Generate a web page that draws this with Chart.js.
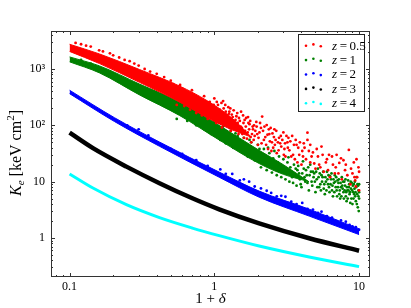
<!DOCTYPE html>
<html>
<head>
<meta charset="utf-8">
<script src="https://cdn.jsdelivr.net/npm/chart.js@4.4.1/dist/chart.umd.min.js"></script>
<style>
  html, body { margin: 0; padding: 0; background: #fff; }
</style>
</head>
<body>
<canvas id="myChart" width="411" height="308"></canvas>
<script>
var xTicks = [0.1, 1, 10];
var yTicks = [1, 10, 100, 1000];
var yTickLabels = { 1: '1', 10: '10', 100: '10\u00b2', 1000: '10\u00b3' };
var seriesNames = ['0.5', '1', '2', '3', '4'];
var seriesColors = ['#ff0000', '#008000', '#0000ff', '#000000', '#00ffff'];

// dense cores (lower / upper edge of the point cloud)
var redBandX = [0.1, 0.161, 0.304, 0.574, 0.9, 1.3, 1.8];
var redBandLow = [2050, 1250, 580, 260, 135, 85, 62];
var redBandHigh = [2750, 1850, 980, 500, 270, 140, 62];

var greenBandX = [0.1, 0.161, 0.304, 0.574, 1.08, 2.04, 3.0, 4.5];
var greenBandLow = [1340, 853, 347, 150, 55, 21, 13.5, 10];
var greenBandHigh = [1640, 1135, 540, 260, 100, 36, 20, 10];

var blueBandX = [0.1, 0.204, 0.418, 1.08, 2.04, 4.52, 10];
var blueBandLow = [365, 117, 42.5, 12, 5.3, 2.45, 1.15];
var blueBandHigh = [420, 137, 50.5, 14.8, 6.8, 3.25, 1.45];

var blackX = [0.1, 0.145, 0.247, 0.418, 0.705, 1.08, 2.04, 4.52, 10];
var blackY = [74, 39.3, 18.5, 9.4, 5.07, 3.23, 1.82, 0.99, 0.594];

var cyanX = [0.1, 0.145, 0.247, 0.418, 0.705, 1.08, 2.04, 4.52, 10];
var cyanY = [13.7, 7.7, 3.9, 2.3, 1.5, 1.1, 0.72, 0.46, 0.31];

// scattered points outside the cores
var redPoints = [
  [0.11,2900],[0.12,2750],[0.13,2600],[0.14,2500],[0.16,2150],[0.17,2050],[0.19,1900],[0.2,1750],
  [0.22,1600],[0.24,1450],[0.26,1380],[0.28,1250],[0.3,1150],[0.33,1000],[0.36,900],[0.4,820],
  [0.437,620],[0.45,720],[0.5,620],[0.52,540],[0.55,230],[0.58,520],[0.6,450],[0.62,220],
  [0.65,380],[0.68,190],[0.7,420],[0.72,330],[0.75,165],[0.78,300],[0.8,250],[0.82,150],
  [0.85,330],[0.88,220],[0.9,130],[0.93,260],[0.96,180],[1.0,300],[1.03,110],[1.05,140],
  [1.06,230],[1.1,160],[1.12,250],[1.13,92],[1.16,200],[1.18,110],[1.2,175],[1.23,120],
  [1.25,210],[1.27,175],[1.3,80],[1.32,155],[1.34,140],[1.38,100],[1.4,125],[1.44,165],
  [1.47,70],[1.5,120],[1.52,95],[1.55,90],[1.58,150],[1.6,60],[1.63,80],[1.66,135],
  [1.7,75],[1.72,110],[1.75,105],[1.78,62],[1.8,50],[1.85,85],[1.88,100],[1.9,65],
  [1.95,115],[1.98,70],[2.0,45],[2.05,75],[2.1,90],[2.14,143],[2.2,55],[2.25,62],
  [2.3,101],[2.35,38],[2.4,70],[2.45,90],[2.5,50],[2.55,40],[2.6,85],[2.65,55],
  [2.7,32],[2.8,60],[2.85,48],[2.9,42],[3.0,75],[3.05,38],[3.1,28],[3.2,50],
  [3.25,60],[3.3,36],[3.45,65],[3.5,30],[3.6,25],[3.7,45],[3.8,40],[3.86,30],
  [4.0,20],[4.1,28],[4.2,40],[4.4,74],[4.4,55],[4.5,35],[4.6,22],[4.8,33],
  [5.0,17],[5.2,28],[5.3,20],[5.5,42],[5.7,15],[6.0,25],[6.2,30],[6.3,12],
  [6.6,20],[6.8,14],[7.0,30],[7.3,21.5],[7.6,11],[7.8,24],[8.0,16],[8.3,13],
  [8.5,36.6],[8.7,9],[9.0,14],[9.2,22],[9.4,10.5],[9.5,8.2],[9.7,12],[9.9,18],[10,7],
  [0.92,200],[0.97,150],[0.99,230],[1.01,175],[1.04,260],[1.08,120],[1.09,190],[1.14,145],
  [1.15,270],[1.19,230],[1.21,140],[1.24,100],[1.26,160],[1.29,200],[1.31,120],[1.36,185],
  [1.37,90],[1.42,145],[1.45,110],[1.48,135],[1.53,175],[1.56,70],[1.59,110],[1.62,125],
  [1.65,95],[1.68,58],[1.71,140],[1.74,85],[1.77,120],[1.82,70],[1.84,95],[1.87,55],
  [1.92,80],[1.96,95],[2.02,60],[2.07,110],[2.12,48],[2.17,80],[2.22,95],[2.28,45],
  [2.33,68],[2.38,85],[2.42,52],[2.48,35],[2.52,72],[2.58,62],[2.62,45],[2.68,80],
  [2.75,50],[2.78,36],[2.88,65],[2.95,55],[3.02,30],[3.08,48],[3.15,65],[3.22,40],
  [3.35,52],[3.4,28],[3.55,45],[3.65,55],[3.75,22],[3.9,50],[4.05,35],[4.15,48],
  [4.3,25],[4.6,45],[4.7,28],[4.9,21],[5.1,38],[5.4,18],[5.6,30],[5.9,22],
  [6.1,16],[6.5,28],[6.9,18],[7.2,14],[7.5,26],[8.1,20],[8.8,17],[9.3,12],[9.6,25],[10,15]
];
var greenPoints = [
  [0.12,1450],[0.14,1250],[0.18,900],[0.22,700],[0.26,560],[0.3,480],[0.35,420],[0.4,340],
  [0.45,300],[0.5,260],[0.55,130],[0.6,240],[0.65,120],[0.7,190],[0.75,100],[0.8,160],
  [0.85,85],[0.9,130],[0.95,70],[1.0,120],[1.1,55],[1.15,95],[1.2,48],[1.3,80],
  [1.35,40],[1.4,72],[1.5,35],[1.6,60],[1.7,28],[1.8,50],[1.9,24],[2.0,45],
  [2.1,18],[2.2,38],[2.3,16],[2.4,32],[2.5,14.5],[2.6,35],[2.7,13],[2.8,28],
  [2.9,12],[3.0,25],[3.1,11],[3.2,22],[3.3,10],[3.35,18],[3.4,15],[3.5,9.5],
  [3.55,20],[3.6,13],[3.7,8.5],[3.75,16],[3.8,19],[3.9,11],[4.0,8],[4.05,14],
  [4.1,23],[4.2,12],[4.3,16],[4.4,9.5],[4.5,7],[4.55,13],[4.6,20],[4.7,10],
  [4.8,15],[4.9,14],[5.0,6.5],[5.1,11],[5.2,17],[5.3,8],[5.4,9],[5.5,13],
  [5.6,12],[5.7,7.5],[5.8,6],[5.9,10],[6.0,15],[6.1,9],[6.2,8],[6.3,12.5],
  [6.4,11],[6.5,7],[6.6,5.5],[6.7,9.5],[6.8,13],[6.9,8],[7.0,7],[7.1,10.5],
  [7.2,9.5],[7.3,6],[7.4,5],[7.5,8],[7.6,12],[7.7,7.5],[7.8,6.5],[7.9,10],
  [8.0,8.5],[8.1,5.5],[8.2,4.5],[8.3,7],[8.4,10.5],[8.5,8],[8.6,6],[8.7,4.2],
  [8.8,7.5],[8.9,9.5],[9.0,4],[9.1,6.5],[9.2,9],[9.3,7.5],[9.4,5.5],[9.5,4.5],
  [9.6,12],[9.7,6],[9.8,3.5],[9.85,8.5],[9.9,7],[9.95,3],[10,5],
  [1.05,80],[1.12,65],[1.18,110],[1.25,60],[1.28,90],[1.38,55],[1.45,65],[1.55,48],
  [1.65,40],[1.75,55],[1.85,35],[1.95,30],[2.05,38],[2.15,28],[2.25,24],[2.35,40],
  [2.45,20],[2.55,26],[2.65,18],[2.75,22],[2.85,17],[2.95,19],[3.05,16],[3.15,14],
  [3.25,27],[3.45,12],[3.65,17],[3.85,14],[3.95,9],[4.15,17],[4.25,10],[4.35,13],
  [4.45,18],[4.65,15],[4.75,8.5],[4.85,12],[4.95,10],[5.05,15],[5.15,8],[5.25,12],
  [5.35,14],[5.45,7],[5.55,10],[5.65,15],[5.75,9],[5.85,12],[5.95,7],[6.05,11],
  [6.15,13],[6.25,6.5],[6.35,9],[6.45,14],[6.55,8.5],[6.65,11],[6.75,6.5],[6.85,10],
  [6.95,12],[7.05,5.5],[7.15,8],[7.25,11],[7.35,7],[7.45,9.5],[7.55,5.5],[7.65,8.5],
  [7.75,10],[7.85,5],[7.95,7],[8.05,11],[8.15,6.5],[8.25,8],[8.35,5],[8.45,7],
  [8.55,9],[8.65,6.5],[8.75,10],[8.85,5],[8.95,7],[9.05,8.5],[9.15,5],[9.25,6],
  [9.35,10],[9.45,6.5],[9.55,8],[9.65,4],[9.75,9],[9.9,5.5],[10,6.5],[10,9]
];
var bluePoints = [
  [0.25,100],[0.3,85],[0.35,66],[0.5,38],[0.6,31],[0.75,24],[0.9,19],[1.1,16.5],
  [1.2,13.8],[1.33,13.7],[1.5,10.5],[1.6,11],[1.74,10],[1.9,8.2],[2.1,7.6],[2.3,6.9],
  [2.47,6.3],[2.7,5.5],[2.9,5.6],[3.1,5.4],[3.4,4.4],[3.7,4.0],[4.05,4.2],[4.4,3.3],
  [4.8,3.2],[5.2,2.8],[5.5,2.93],[6.0,2.45],[6.5,2.3],[7.0,2.0],[7.5,2.05],[8.1,1.95],
  [8.6,1.7],[9.0,1.6],[9.5,1.55],[10,1.4]
];

function pts(xs, ys) {
  return xs.map(function (x, i) { return { x: x, y: ys[i] }; });
}
function pairs(list) {
  return list.map(function (p) { return { x: p[0], y: p[1] }; });
}
function cloud(list, color) {
  return { data: pairs(list), backgroundColor: color, borderWidth: 0, pointRadius: 1.4 };
}
function edge(xs, ys, color, fill) {
  return {
    data: pts(xs, ys), showLine: true, borderColor: color, backgroundColor: color,
    borderWidth: 1, pointRadius: 0, fill: fill, cubicInterpolationMode: 'monotone'
  };
}
function curve(xs, ys, color, w) {
  return {
    data: pts(xs, ys), showLine: true, borderColor: color, borderWidth: w,
    pointRadius: 0, fill: false, cubicInterpolationMode: 'monotone'
  };
}

var serif = "'Liberation Serif', 'DejaVu Serif', serif";

function richWidth(ctx, parts) {
  var w = 0;
  parts.forEach(function (p) { ctx.font = p.f; w += ctx.measureText(p.t).width; });
  return w;
}
function drawRich(ctx, parts, x, y) {
  parts.forEach(function (p) {
    ctx.font = p.f;
    ctx.fillText(p.t, x, y + (p.dy || 0));
    x += ctx.measureText(p.t).width;
  });
}

var decorations = {
  id: 'decorations',
  afterDraw: function (chart) {
    var ctx = chart.ctx, a = chart.chartArea;
    var xs = chart.scales.x, ys = chart.scales.y;
    ctx.save();
    ctx.strokeStyle = '#333';
    ctx.lineWidth = 1;
    function marks(scale, horiz) {
      var lo = Math.floor(Math.log10(scale.min)), hi = Math.ceil(Math.log10(scale.max));
      ctx.beginPath();
      for (var e = lo; e <= hi; e++) {
        for (var m = 1; m < 10; m++) {
          var v = m * Math.pow(10, e);
          if (v < scale.min || v > scale.max) continue;
          var len = m === 1 ? 4 : 2;
          var p = Math.round(scale.getPixelForValue(v)) + 0.5;
          if (horiz) {
            ctx.moveTo(p, a.bottom); ctx.lineTo(p, a.bottom - len);
            ctx.moveTo(p, a.top); ctx.lineTo(p, a.top + len);
          } else {
            ctx.moveTo(a.left, p); ctx.lineTo(a.left + len, p);
            ctx.moveTo(a.right, p); ctx.lineTo(a.right - len, p);
          }
        }
      }
      ctx.stroke();
    }
    marks(xs, true);
    marks(ys, false);
    ctx.strokeRect(a.left + 0.5, a.top + 0.5, a.right - a.left - 1, a.bottom - a.top - 1);

    // axis titles
    ctx.fillStyle = '#000';
    ctx.textBaseline = 'alphabetic';
    var xt = [
      { t: '1 + ', f: '15px ' + serif },
      { t: '\u03b4', f: 'italic 15px ' + serif }
    ];
    var w = richWidth(ctx, xt);
    drawRich(ctx, xt, (a.left + a.right) / 2 - w / 2, 303);

    var yt = [
      { t: 'K', f: 'italic 16px ' + serif },
      { t: 'e', f: 'italic 11px ' + serif, dy: 3 },
      { t: ' [keV cm', f: '16px ' + serif },
      { t: '2', f: '11px ' + serif, dy: -7 },
      { t: ']', f: '16px ' + serif }
    ];
    w = richWidth(ctx, yt);
    ctx.save();
    ctx.translate(21, 153);
    ctx.rotate(-Math.PI / 2);
    drawRich(ctx, yt, -w / 2, 0);
    ctx.restore();

    // legend
    var bx = a.right - 72, by = a.top + 3, bw = 66, bh = 77;
    ctx.fillStyle = '#fff';
    ctx.fillRect(bx, by, bw, bh);
    ctx.strokeStyle = '#222';
    ctx.strokeRect(bx + 0.5, by + 0.5, bw, bh);
    var dotDy = [0.7, -0.6, 1.3];
    seriesNames.forEach(function (name, i) {
      var cy = by + 11 + i * 14.4;
      ctx.fillStyle = seriesColors[i];
      for (var k = 0; k < 3; k++) {
        ctx.beginPath();
        ctx.arc(bx + 8 + k * 7.4, cy + dotDy[k], 1.3, 0, Math.PI * 2);
        ctx.fill();
      }
      ctx.fillStyle = '#000';
      drawRich(ctx, [
        { t: 'z', f: 'italic 13px ' + serif },
        { t: '\u2009=\u2009' + name, f: '13px ' + serif }
      ], bx + 34, cy + 4.5);
    });
    ctx.restore();
  }
};

var ctx = document.getElementById('myChart').getContext('2d');
var myChart = new Chart(ctx, {
  type: 'scatter',
  data: {
    datasets: [
      cloud(redPoints, seriesColors[0]),
      edge(redBandX, redBandHigh, seriesColors[0], '+1'),
      edge(redBandX, redBandLow, seriesColors[0], false),
      cloud(greenPoints, seriesColors[1]),
      edge(greenBandX, greenBandHigh, seriesColors[1], '+1'),
      edge(greenBandX, greenBandLow, seriesColors[1], false),
      cloud(bluePoints, seriesColors[2]),
      edge(blueBandX, blueBandHigh, seriesColors[2], '+1'),
      edge(blueBandX, blueBandLow, seriesColors[2], false),
      curve(blackX, blackY, seriesColors[3], 4.5),
      curve(cyanX, cyanY, seriesColors[4], 3)
    ]
  },
  options: {
    responsive: false,
    animation: false,
    layout: { padding: { left: 0, right: 41, top: 31, bottom: 0 } },
    plugins: { legend: { display: false }, tooltip: { enabled: false } },
    scales: {
      x: {
        type: 'logarithmic',
        min: 0.0744, max: 11.9,
        grid: { display: false, drawTicks: false },
        border: { display: false },
        afterBuildTicks: function (s) { s.ticks = xTicks.map(function (v) { return { value: v }; }); },
        afterFit: function (s) { s.height = 31; },
        ticks: {
          autoSkip: false, maxRotation: 0, padding: 3, color: '#000',
          font: { family: serif, size: 12 },
          callback: function (v) { return String(v); }
        }
      },
      y: {
        type: 'logarithmic',
        min: 0.203, max: 4730,
        grid: { display: false, drawTicks: false },
        border: { display: false },
        afterBuildTicks: function (s) { s.ticks = yTicks.map(function (v) { return { value: v }; }); },
        afterFit: function (s) { s.width = 51; },
        ticks: {
          autoSkip: false, padding: 6, color: '#000',
          font: { family: serif, size: 12 },
          callback: function (v) { return yTickLabels[v]; }
        }
      }
    }
  },
  plugins: [decorations]
});
</script>
</body>
</html>
